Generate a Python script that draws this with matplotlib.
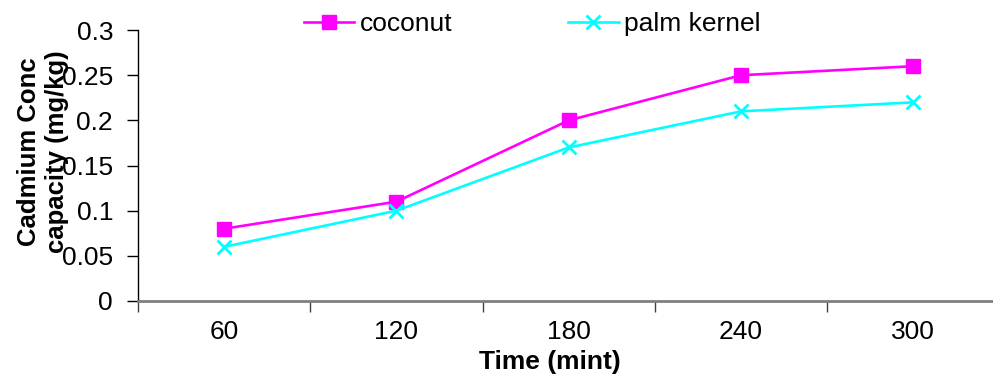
import numpy as np
import matplotlib.pyplot as plt

plt.rcParams['font.family'] = ['Liberation Sans', 'DejaVu Sans']

# Cadmium uptake over time for the two adsorbents
times = ["60", "120", "180", "240", "300"]
coconut = [0.08, 0.11, 0.20, 0.25, 0.26]
palm_kernel = [0.06, 0.10, 0.17, 0.21, 0.22]

fig = plt.figure(figsize=(9.93, 3.76), dpi=100)
ax = fig.add_axes([0.139, 0.1995, 0.8675, 0.7205])

x = np.arange(len(times))
ax.plot(x, coconut, color="#FF00FF", lw=1.9, marker="s", ms=10,
        label="coconut", clip_on=False)
ax.plot(x, palm_kernel, color="#00FFFF", lw=1.9, marker="x", ms=10, mew=2,
        label="palm kernel", clip_on=False)

ax.set_xlim(-0.5, len(times) - 0.5)
ax.set_ylim(0, 0.3)
ax.set_yticks(np.arange(0, 0.301, 0.05))
ax.set_yticklabels(["0", "0.05", "0.1", "0.15", "0.2", "0.25", "0.3"])
ax.set_xticks(x)
ax.set_xticklabels(times)
ax.set_xticks(np.arange(-0.5, len(times)), minor=True)

ax.tick_params(axis="y", direction="out", length=8, width=1, pad=10,
               labelsize=19, color="black")
ax.tick_params(axis="x", which="major", length=0, pad=14, labelsize=19)
ax.tick_params(axis="x", which="minor", direction="out", length=8,
               width=1, color="#404040")

for side in ("top", "right"):
    ax.spines[side].set_visible(False)
ax.spines["left"].set_color("black")
ax.spines["left"].set_linewidth(1)
ax.spines["bottom"].set_color("#808080")
ax.spines["bottom"].set_linewidth(2)

fig.text(0.043, 0.596, "Cadmium Conc\ncapacity (mg/kg)", rotation=90,
         ha="center", va="center", fontsize=18.5, fontweight="bold",
         linespacing=1.2)
fig.text(0.554, 0.037, "Time (mint)", ha="center", va="center",
         fontsize=19, fontweight="bold")

fig.legend(loc="center", bbox_to_anchor=(0.536, 0.935), ncol=2, frameon=False,
           fontsize=19, handlelength=1.9, handletextpad=0.2,
           columnspacing=4.4)

fig.savefig("out.png", dpi=100)
